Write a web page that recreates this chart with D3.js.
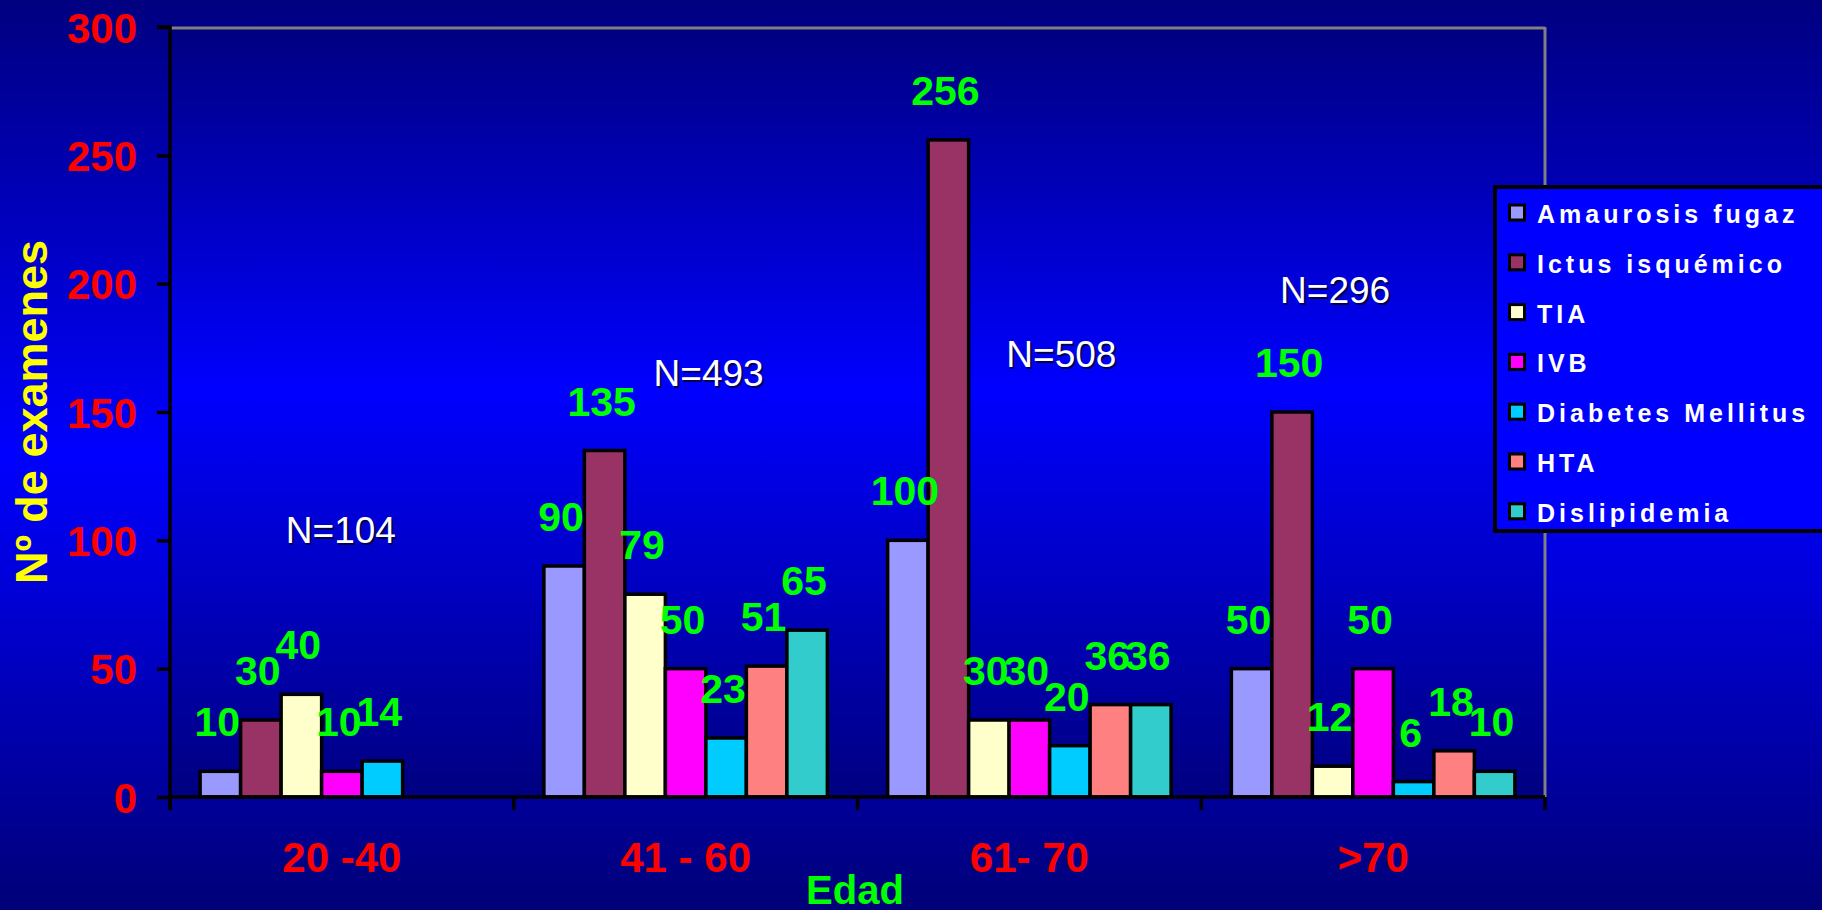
<!DOCTYPE html>
<html>
<head>
<meta charset="utf-8">
<script src="https://cdn.jsdelivr.net/npm/d3@7"></script>
<style>
  html, body { margin: 0; padding: 0; background: #000080; overflow: hidden; }
  svg { display: block; }
  text { font-family: "Liberation Sans", Arial, Helvetica, sans-serif; }
</style>
</head>
<body>
<svg id="chart" width="1822" height="910"></svg>
<script>
// Age groups (x categories)
const categories = ["20 -40", "41 - 60", "61- 70", ">70"];

// Diagnosis series shown in every age group
const seriesNames = ["Amaurosis fugaz", "Ictus isquémico", "TIA", "IVB", "Diabetes Mellitus", "HTA", "Dislipidemia"];
const seriesColors = ["#9999ff", "#993366", "#ffffcc", "#ff00ff", "#00ccff", "#ff8080", "#33cccc"];

// Number of exams per series, one value per age group (null = no bar)
const amaurosis = [10, 90, 100, 50];
const ictus     = [30, 135, 256, 150];
const tia       = [40, 79, 30, 12];
const ivb       = [10, 50, 30, 50];
const diabetes  = [14, 23, 20, 6];
const hta       = [null, 51, 36, 18];
const dislip    = [null, 65, 36, 10];

// Totals per age group
const totals = ["N=104", "N=493", "N=508", "N=296"];

// Axis ticks
const yTicks = [0, 50, 100, 150, 200, 250, 300];

const seriesValues = [amaurosis, ictus, tia, ivb, diabetes, hta, dislip];

const W = 1822, H = 910;
const plot = { left: 170, right: 1545, top: 27, bottom: 797 };

const svg = d3.select("#chart");
const defs = svg.append("defs");

// Background gradients
const bgGrad = defs.append("linearGradient").attr("id", "bgGrad")
  .attr("x1", 0).attr("y1", 0).attr("x2", 0).attr("y2", 1);
bgGrad.append("stop").attr("offset", "0%").attr("stop-color", "#000080");
bgGrad.append("stop").attr("offset", "50%").attr("stop-color", "#0000ff");
bgGrad.append("stop").attr("offset", "100%").attr("stop-color", "#000078");

const plotGrad = defs.append("linearGradient").attr("id", "plotGrad")
  .attr("x1", 0).attr("y1", 0).attr("x2", 0).attr("y2", 1);
plotGrad.append("stop").attr("offset", "0%").attr("stop-color", "#000080");
plotGrad.append("stop").attr("offset", "47%").attr("stop-color", "#0000ff");
plotGrad.append("stop").attr("offset", "100%").attr("stop-color", "#000080");

svg.append("rect").attr("x", 0).attr("y", 0).attr("width", W).attr("height", H)
  .attr("fill", "url(#bgGrad)");

svg.append("rect")
  .attr("x", plot.left).attr("y", plot.top)
  .attr("width", plot.right - plot.left).attr("height", plot.bottom - plot.top)
  .attr("fill", "url(#plotGrad)");

// Scales
const y = d3.scaleLinear().domain([0, 300]).range([plot.bottom, plot.top]);
const x0 = d3.scaleBand().domain(categories).range([plot.left, plot.right]).padding(0);
const x1 = d3.scaleBand().domain(seriesNames).range([0, x0.bandwidth()])
  .paddingInner(0).paddingOuter(0.744);

// Plot frame: grey top and right edges
svg.append("line").attr("x1", plot.left).attr("x2", plot.right)
  .attr("y1", plot.top + 1).attr("y2", plot.top + 1)
  .attr("stroke", "#808080").attr("stroke-width", 3);
svg.append("line").attr("x1", plot.right).attr("x2", plot.right)
  .attr("y1", plot.top).attr("y2", plot.bottom)
  .attr("stroke", "#808080").attr("stroke-width", 3);

// Bars
const barData = [];
categories.forEach((c, ci) => {
  seriesNames.forEach((s, si) => {
    const v = seriesValues[si][ci];
    if (v !== null) barData.push({ cat: c, series: s, color: seriesColors[si], value: v });
  });
});

const bars = svg.append("g").attr("class", "bars");
bars.selectAll("rect").data(barData).join("rect")
  .attr("x", d => x0(d.cat) + x1(d.series))
  .attr("y", d => y(d.value))
  .attr("width", x1.bandwidth())
  .attr("height", d => y(0) - y(d.value))
  .attr("fill", d => d.color)
  .attr("stroke", "#000")
  .attr("stroke-width", 3.5);

// Y axis
const yAxis = d3.axisLeft(y).tickValues(yTicks).tickSize(13).tickPadding(20).tickFormat(d3.format("d"));
const gy = svg.append("g").attr("transform", `translate(${plot.left},0)`).call(yAxis);
gy.select(".domain").attr("stroke", "#000").attr("stroke-width", 3.5)
  .attr("d", `M-13,${plot.top}H0V${plot.bottom + 13}`);
gy.selectAll(".tick line").attr("stroke", "#000").attr("stroke-width", 3.5);
gy.selectAll(".tick text")
  .attr("fill", "#ff0000").attr("font-size", 42).attr("font-weight", "bold")
  .attr("font-family", "'Liberation Sans', Arial, sans-serif")
  .attr("dy", "0.36em");

// X axis (ticks at category boundaries)
const boundaries = categories.map(c => x0(c)).concat([plot.right]);
const gx = svg.append("g");
gx.append("line").attr("x1", plot.left).attr("x2", plot.right)
  .attr("y1", plot.bottom).attr("y2", plot.bottom)
  .attr("stroke", "#000").attr("stroke-width", 3.5);
gx.selectAll("line.tick").data(boundaries).join("line").attr("class", "tick")
  .attr("x1", d => d).attr("x2", d => d)
  .attr("y1", plot.bottom).attr("y2", plot.bottom + 13)
  .attr("stroke", "#000").attr("stroke-width", 3.5);
gx.selectAll("text").data(categories).join("text")
  .attr("x", d => x0(d) + x0.bandwidth() / 2)
  .attr("y", 872)
  .attr("text-anchor", "middle")
  .attr("fill", "#ff0000").attr("font-size", 42).attr("font-weight", "bold")
  .text(d => d);

// Value labels above bars
svg.append("g").selectAll("text").data(barData).join("text")
  .attr("x", d => x0(d.cat) + x1(d.series) + x1.bandwidth() / 2 - 3)
  .attr("y", d => y(d.value) - 35)
  .attr("text-anchor", "middle")
  .attr("fill", "#00ff00").attr("font-size", 41).attr("font-weight", "bold")
  .text(d => d.value);

// Group totals, placed as free annotations (x offset from group centre, y in data units)
const totalPlacement = [[-1, 99], [23, 160], [32, 167.5], [-38, 192.5]];
const gN = svg.append("g");
totals.forEach((t, i) => {
  const cx = x0(categories[i]) + x0.bandwidth() / 2 + totalPlacement[i][0];
  const cy = y(totalPlacement[i][1]);
  gN.append("text").attr("x", cx + 2).attr("y", cy + 2)
    .attr("text-anchor", "middle").attr("font-size", 37)
    .attr("fill", "rgba(0,0,30,0.75)").text(t);
  gN.append("text").attr("x", cx).attr("y", cy)
    .attr("text-anchor", "middle").attr("font-size", 37)
    .attr("fill", "#ffffff").text(t);
});

// Axis titles
svg.append("text")
  .attr("transform", `translate(47, ${(plot.top + plot.bottom) / 2}) rotate(-90)`)
  .attr("text-anchor", "middle")
  .attr("fill", "#ffff00").attr("font-size", 45).attr("font-weight", "bold")
  .text("Nº de examenes");

svg.append("text")
  .attr("x", 855).attr("y", 904)
  .attr("text-anchor", "middle")
  .attr("fill", "#00ff00").attr("font-size", 40).attr("font-weight", "bold")
  .text("Edad");

// Legend
const legend = svg.append("g");
legend.append("rect")
  .attr("x", 1495).attr("y", 187).attr("width", 360).attr("height", 344)
  .attr("fill", "#0000ff").attr("stroke", "#000").attr("stroke-width", 4);
const items = legend.selectAll("g.item").data(seriesNames).join("g").attr("class", "item")
  .attr("transform", (d, i) => `translate(0, ${223 + i * 49.8})`);
items.append("rect")
  .attr("x", 1509.5).attr("y", -18).attr("width", 15).attr("height", 15)
  .attr("fill", (d, i) => seriesColors[i])
  .attr("stroke", "#000").attr("stroke-width", 3);
items.append("text")
  .attr("x", 1537).attr("y", 0)
  .attr("fill", "#ffffff").attr("font-size", 25).attr("font-weight", "bold")
  .attr("letter-spacing", 4)
  .text(d => d);
</script>
</body>
</html>
